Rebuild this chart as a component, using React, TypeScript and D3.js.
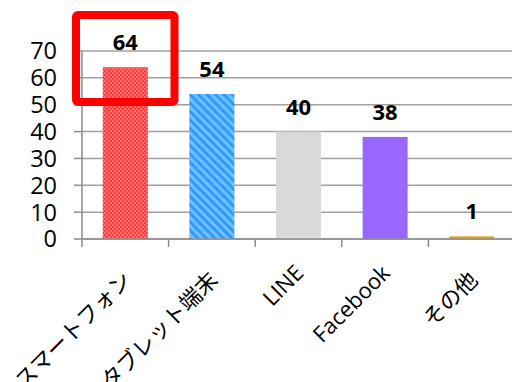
import React from "react";
import * as d3 from "d3";

const categories = ["スマートフォン", "タブレット端末", "LINE", "Facebook", "その他"];
const values = [64, 54, 40, 38, 1];
const yTicks = [0, 10, 20, 30, 40, 50, 60, 70];
const fills = ["url(#redChecker)", "url(#blueStripe)", "#D9D9D9", "#9966FF", "#E8A317"];

const W = 512;
const H = 382;
const left = 82;
const right = 515;
const top = 51;
const bottom = 239;

export default function App() {
  const x = d3.scaleBand<string>().domain(categories).range([left, right]).paddingInner(0.48).paddingOuter(0.24);
  const band = d3.scaleBand<string>().domain(categories).range([left, right]);
  const y = d3.scaleLinear().domain([0, 70]).range([bottom, top]);
  const font = "'Open Sans', 'Noto Sans CJK JP', sans-serif";
  return (
    <svg width={W} height={H} style={{ position: "absolute", left: 0, top: 0, background: "#fff" }}>
      <defs>
        <pattern id="redChecker" width="4" height="4" patternUnits="userSpaceOnUse">
          <rect width="4" height="4" fill="#FF3B3B" />
          <rect x="0" y="0" width="2" height="2" fill="#FF7070" />
          <rect x="2" y="2" width="2" height="2" fill="#FF7070" />
        </pattern>
        <pattern id="blueStripe" width="6" height="6" patternUnits="userSpaceOnUse" patternTransform="rotate(45)">
          <rect width="6" height="6" fill="#3399FF" />
          <rect width="6" height="3" fill="#6EC0FF" />
        </pattern>
      </defs>
      {yTicks.map((t) => (
        <g key={t}>
          <line x1={left} x2={W} y1={y(t)} y2={y(t)} stroke="#A0A0A0" strokeWidth={1.5} />
          <line x1={74} x2={left} y1={y(t)} y2={y(t)} stroke="#8C8C8C" strokeWidth={1.5} />
          <text x={57} y={y(t)} dy="0.36em" textAnchor="end" fontFamily={font} fontSize={23.5} fill="#000">
            {t}
          </text>
        </g>
      ))}
      {categories.map((c, i) => (
        <rect key={c} x={x(c)} y={y(values[i])} width={x.bandwidth()} height={y(0) - y(values[i])} fill={fills[i]} />
      ))}
      <line x1={left} x2={left} y1={top} y2={bottom} stroke="#8C8C8C" strokeWidth={1.5} />
      <line x1={left} x2={W} y1={bottom} y2={bottom} stroke="#8C8C8C" strokeWidth={1.5} />
      {categories.map((c) => (
        <line key={"t" + c} x1={band(c)!} x2={band(c)!} y1={bottom} y2={bottom + 8} stroke="#8C8C8C" strokeWidth={1.5} />
      ))}
      {categories.map((c, i) => (
        <text key={"v" + c} x={x(c)! + x.bandwidth() / 2} y={y(values[i]) - 17} textAnchor="middle" fontFamily={font} fontWeight="bold" fontSize={22} fill="#000">
          {values[i]}
        </text>
      ))}
      {categories.map((c) => {
        const cx = band(c)! + band.bandwidth() / 2;
        const isAscii = /^[A-Za-z]+$/.test(c);
        const tx = isAscii ? cx - 6 : cx - 5;
        const ty = isAscii ? bottom + 23 : bottom + 30;
        return (
          <text key={"x" + c} transform={`translate(${tx},${ty}) rotate(-45)`} textAnchor="end" dy="0.8em" fontFamily={font} fontSize={22} fill="#000">
            {c}
          </text>
        );
      })}
      <rect x={76} y={15} width={98.5} height={87} rx={2} fill="none" stroke="#FF0000" strokeWidth={8} />
    </svg>
  );
}
